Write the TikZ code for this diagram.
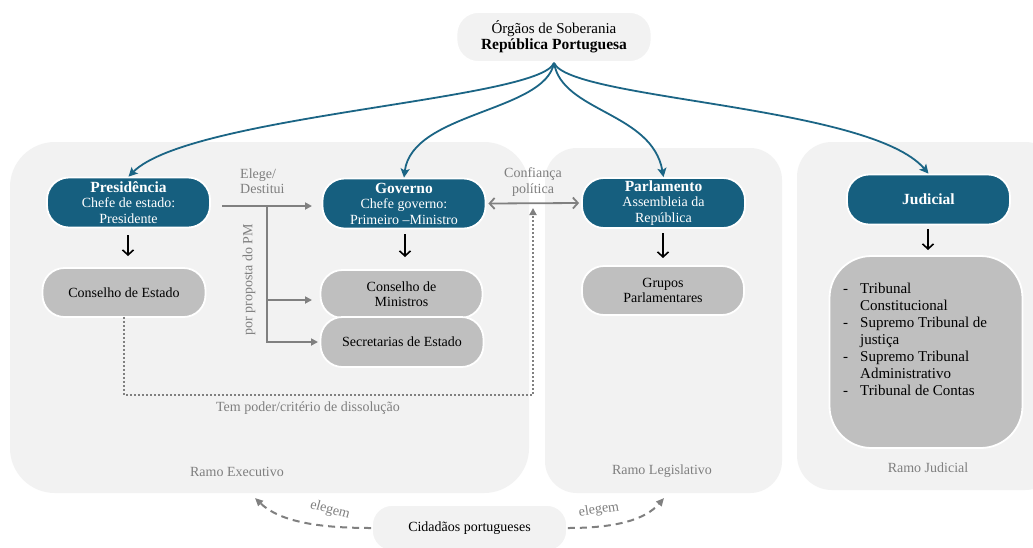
\documentclass[tikz,border=0pt]{standalone}
\usepackage{fontspec}
\setmainfont{Liberation Serif}
\usetikzlibrary{arrows.meta}
\definecolor{blueN}{HTML}{165F7F}
\definecolor{blueA}{HTML}{1B6585}
\definecolor{grayN}{HTML}{BFBFBF}
\definecolor{grayBg}{HTML}{F2F2F2}
\definecolor{grayA}{HTML}{808080}
\definecolor{grayT}{HTML}{7F7F7F}
\newcommand{\bt}[1]{{\fontsize{15.5}{15.5}\selectfont\textbf{#1}}}
\tikzset{
  pill/.style={draw=white, line width=1.8pt, rounded corners=22pt, minimum width=163pt,
    minimum height=50pt, align=center, inner sep=0pt, font=\fontsize{14}{15.5}\selectfont},
  bluenode/.style={pill, fill=blueN, text=white},
  graynode/.style={pill, fill=grayN, text=black},
  lbl/.style={text=grayT, align=center, inner sep=0pt, font=\fontsize{14}{15.5}\selectfont},
  bluearrow/.style={draw=blueA, line width=1.8pt, -{Stealth[length=9pt,width=9pt,inset=2pt]}},
  blackarrow/.style={draw=black, line width=1.6pt, -{Straight Barb[length=5pt,width=11pt]}},
  grayarrow/.style={draw=grayA, line width=1.8pt, -{Triangle[length=7pt,width=7pt]}},
  dotline/.style={draw=grayA, line width=1.8pt, dash pattern=on 1.8pt off 2.2pt,
    -{Triangle[length=7pt,width=7pt]}},
  dasharrow/.style={draw=grayA, line width=2pt, dash pattern=on 7pt off 5pt,
    -{Triangle[length=8pt,width=7pt]}}
}
\begin{document}
\begin{tikzpicture}[x=1pt,y=-1pt]
\useasboundingbox (0,0) rectangle (1033,547);
\fill[white] (0,0) rectangle (1033,547);
% branch areas
\fill[grayBg, rounded corners=45pt] (10,142) rectangle (529,493);
\fill[grayBg, rounded corners=32pt] (545,148) rectangle (782,493);
\fill[grayBg, rounded corners=35pt] (797,142) rectangle (1060,490);
\node[lbl] (ramoexec) at (237,472) {Ramo Executivo};
\node[lbl] (ramoleg) at (662,471) {Ramo Legislativo};
\node[lbl] (ramojud) at (928,468) {Ramo Judicial};

% top node
\node[pill, fill=grayBg, minimum width=195pt, minimum height=50pt, font=\fontsize{15}{16}\selectfont] (org) at (554,37)
  {Órgãos de Soberania\\\bt{República Portuguesa}};

% blue nodes
\node[bluenode] (pres) at (128.5,202.5) {\bt{Presidência}\\Chefe de estado:\\Presidente};
\node[bluenode] (gov) at (404,203.5) {\bt{Governo}\\Chefe governo:\\Primeiro –Ministro};
\node[bluenode] (par) at (663.5,203) {\bt{Parlamento}\\Assembleia da\\República};
\node[bluenode] (jud) at (928.5,199.5) {\bt{Judicial}};

% gray nodes
\node[graynode, minimum height=49pt] (cest) at (124,292.5) {Conselho de Estado};
\node[graynode, minimum width=162pt, minimum height=48pt] (cmin) at (401.5,294) {Conselho de\\Ministros};
\node[graynode, minimum width=163pt, minimum height=50pt] (sec) at (402,342) {Secretarias de Estado};
\node[graynode, minimum width=162pt, minimum height=49pt] (grp) at (663,290.5) {Grupos\\Parlamentares};
\node[pill, fill=grayN, minimum width=193pt, minimum height=192pt, rounded corners=42pt] (judlist) at (926,352) {};
\node[anchor=west, inner sep=0pt, font=\fontsize{15}{17}\selectfont, align=left] (judtext) at (843,341.5)
  {\begin{tabular}{@{}l@{\hspace{12pt}}l@{}}
   - & Tribunal\\ & Constitucional\\
   - & Supremo Tribunal de\\ & justiça\\
   - & Supremo Tribunal\\ & Administrativo\\
   - & Tribunal de Contas
   \end{tabular}};

% citizens
\node[pill, fill=grayBg, minimum width=195pt, minimum height=46pt, rounded corners=20pt] (cid) at (469.5,528) {Cidadãos portugueses};

% blue arrows
\draw[bluearrow] (org.south) .. controls (540,100) and (190,115) .. (pres.north);
\draw[bluearrow] (org.south) .. controls (545,112) and (412,112) .. (gov.north);
\draw[bluearrow] (org.south) .. controls (562,112) and (652,112) .. (par.north);
\draw[bluearrow] (org.south) .. controls (570,100) and (870,105) .. (jud.north);

% black arrows
\coordinate (presA) at (128,235); \coordinate (presB) at (128,256);
\coordinate (govA) at (405,234); \coordinate (govB) at (405,257);
\coordinate (parA) at (663,233); \coordinate (parB) at (663,258);
\coordinate (judA) at (928,229); \coordinate (judB) at (928,250);
\draw[blackarrow] (presA) -- (presB);
\draw[blackarrow] (govA) -- (govB);
\draw[blackarrow] (parA) -- (parB);
\draw[blackarrow] (judA) -- (judB);

% elege / destitui
\coordinate (eleS) at (222,206);
\coordinate (eleJ) at (267,206);
\coordinate (eleE) at (312,206);
\coordinate (eleM) at (312,300);
\coordinate (eleB) at (318,342);
\draw[grayarrow] (eleS) -- (eleE);
\draw[grayarrow] (eleJ) |- (eleM);
\draw[grayarrow] (eleJ) |- (eleB);
\node[lbl, align=left, anchor=west] (elege) at (240,181) {Elege/\\Destitui};
\node[lbl, rotate=90] (proposta) at (249,280) {por proposta do PM};

% confianca politica
\draw[draw=grayA, line width=1.8pt, {Straight Barb[length=5pt,width=11pt]}-{Straight Barb[length=5pt,width=11pt]}]
  ([xshift=2pt]gov.east) -- ([xshift=-2pt]par.west);
\node[lbl, font=\fontsize{14}{16}\selectfont] (conf) at (533,182) {Confiança\\política};

% dissolution
\coordinate (dotC) at (124,395);
\coordinate (dotD) at (533,395);
\coordinate (dotE) at (533,208);
\draw[dotline] ([yshift=1pt]cest.south) -- (dotC) -- (dotD) -- (dotE);
\node[lbl] (diss) at (308,408) {Tem poder/critério de dissolução};

% elegem
\coordinate (elL) at (255,498);
\coordinate (elR) at (664,498);
\draw[dasharrow] (cid.west) .. controls (320,528) and (280,522) .. (elL);
\draw[dasharrow] (cid.east) .. controls (615,528) and (645,520) .. (elR);
\node[lbl, rotate=-15] (elegemL) at (330,510) {elegem};
\node[lbl, rotate=8] (elegemR) at (599,510) {elegem};
\end{tikzpicture}
\end{document}
